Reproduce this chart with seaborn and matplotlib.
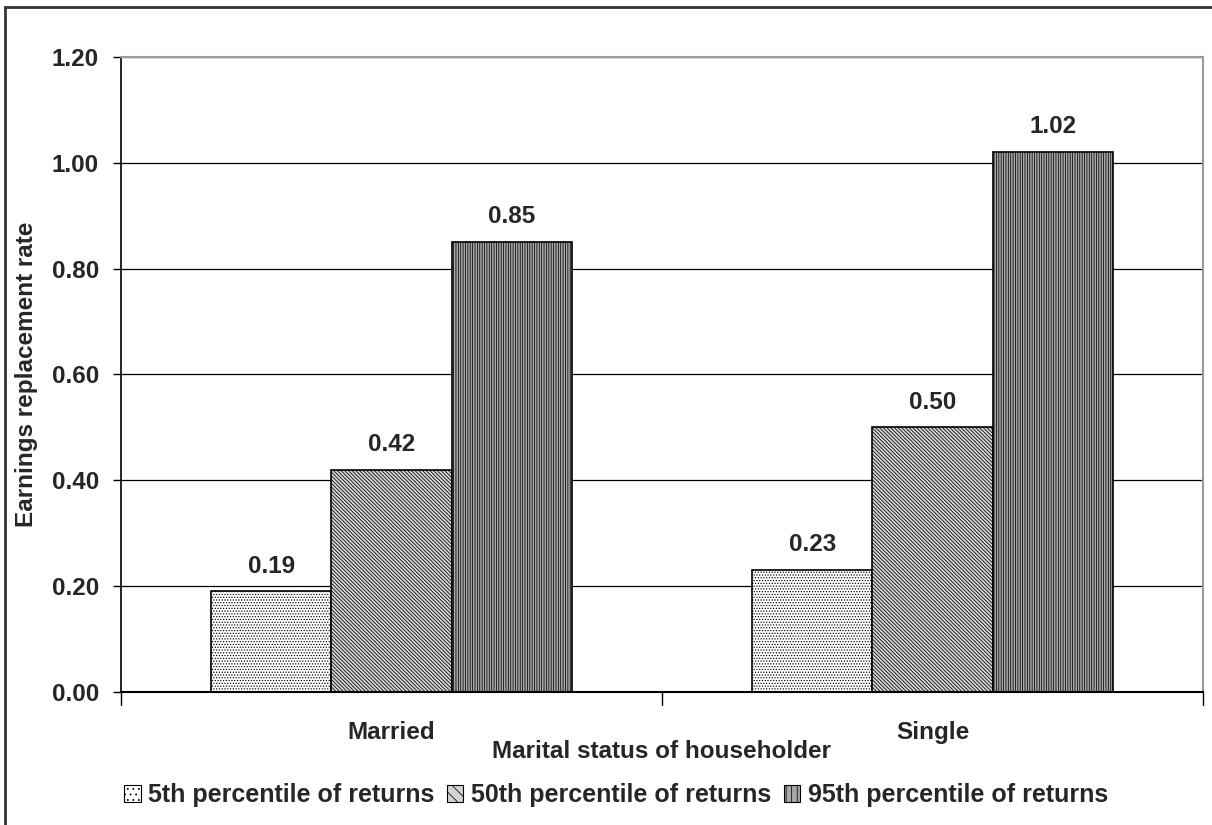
import numpy as np
import pandas as pd
import matplotlib
matplotlib.use("Agg")
import matplotlib.pyplot as plt
import seaborn as sns
from matplotlib.patches import Rectangle

# data
estados = ["Married", "Single"]
percentiles = ["5th percentile of returns", "50th percentile of returns", "95th percentile of returns"]
p5 = [0.19, 0.23]
p50 = [0.42, 0.50]
p95 = [0.85, 1.02]
yticks = [0.0, 0.2, 0.4, 0.6, 0.8, 1.0, 1.2]

df = pd.DataFrame({
    "estado": estados * 3,
    "pct": [percentiles[0]] * 2 + [percentiles[1]] * 2 + [percentiles[2]] * 2,
    "valor": p5 + p50 + p95,
})

sns.set_style("white")
plt.rcParams['font.family'] = ['Liberation Sans', 'DejaVu Sans']
plt.rcParams['font.weight'] = 'bold'
plt.rcParams['hatch.linewidth'] = 0.55

fs = 17.5
fig = plt.figure(figsize=(12.12, 8.25), dpi=100)
ax = fig.add_axes([121/1212, 1-692/825, (1203-121)/1212, (692-57)/825])

colores = ["white", "#d4d4d4", "#a8a8a8"]
tramas = ["......", "\\" * 9, "|" * 7]
sns.barplot(data=df, x="estado", y="valor", hue="pct", hue_order=percentiles,
            palette=colores, width=0.667, edgecolor="black", linewidth=1.2,
            saturation=1, ax=ax, legend=False, errorbar=None)

# tramas por serie (los patches van por orden de hue)
for k, cont in enumerate(ax.containers):
    for b in cont:
        b.set_hatch(tramas[k])
        b.set_edgecolor("black")
    ax.bar_label(cont, fmt="%.2f", padding=10, fontsize=fs, fontweight="bold")

ax.set_ylim(0, 1.2)
ax.set_xlim(-0.5, 1.5)
ax.set_yticks(yticks)
ax.set_yticklabels([f"{v:.2f}" for v in yticks], fontsize=fs, fontweight="bold")
ax.set_xticks([0, 1])
ax.set_xticklabels(estados, fontsize=fs, fontweight="bold")
ax.tick_params(axis="x", length=0, pad=21)
ax.tick_params(axis="y", left=True, length=6, width=1, color="black", pad=10)
# marcas entre categorias
for xm in [-0.5, 0.5, 1.5]:
    ax.plot([xm, xm], [0, -0.025], color="black", lw=1, clip_on=False)

ax.grid(axis="y", color="black", lw=0.9)
ax.set_axisbelow(True)
for s in ["top", "right"]:
    ax.spines[s].set_color("#999999")
    ax.spines[s].set_linewidth(1.5)
ax.spines["left"].set_color("black")
ax.spines["bottom"].set_color("black")
ax.spines["left"].set_linewidth(1.2)
ax.spines["bottom"].set_linewidth(1.5)

ax.set_ylabel("Earnings replacement rate", fontsize=fs, fontweight="bold")
ax.yaxis.set_label_coords(-(121-38)/1082, 0.5)
ax.set_xlabel("Marital status of householder", fontsize=fs, fontweight="bold")
ax.xaxis.set_label_coords(0.5, -(740-692)/635)

manijas = [Rectangle((0, 0), 1, 1, facecolor=colores[i], edgecolor="black",
                     hatch=tramas[i][:3], lw=0.8) for i in range(3)]
fig.legend(manijas, percentiles, loc="center", bbox_to_anchor=(616/1212, 1-795/825),
           ncol=3, frameon=False, prop={"weight": "bold", "size": 18},
           handlelength=0.66, handleheight=0.66, handletextpad=0.3, columnspacing=0.5,
           borderpad=0, borderaxespad=0)

# marco exterior del grafico
fig.patches.append(Rectangle((5/1212, -0.05), 1.1, 1 - 7/825 + 0.05, transform=fig.transFigure,
                             fill=False, edgecolor="#333333", lw=2))

fig.savefig("out.png", dpi=100)
